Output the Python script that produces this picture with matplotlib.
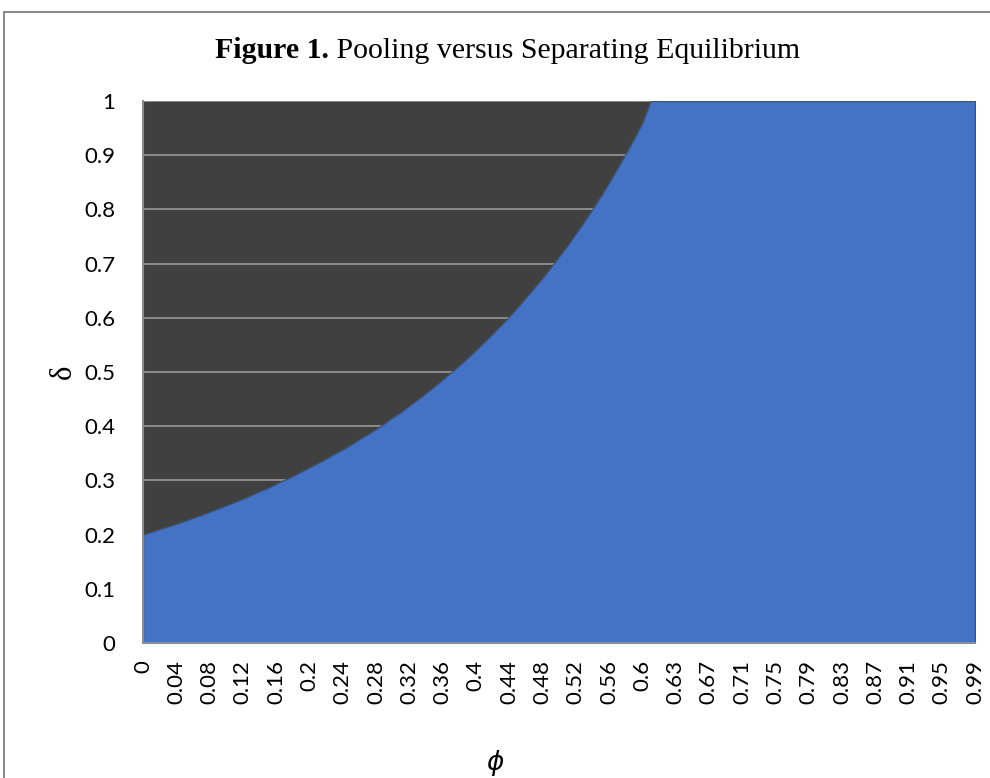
import matplotlib
matplotlib.use("Agg")
import matplotlib.pyplot as plt
from matplotlib.lines import Line2D
import numpy as np

# phi categories (x axis), one extra point where delta reaches 1
phi = [0, 0.01, 0.02, 0.03, 0.04, 0.05, 0.06, 0.07, 0.08, 0.09,
       0.1, 0.11, 0.12, 0.13, 0.14, 0.15, 0.16, 0.17, 0.18, 0.19,
       0.2, 0.21, 0.22, 0.23, 0.24, 0.25, 0.26, 0.27, 0.28, 0.29,
       0.3, 0.31, 0.32, 0.33, 0.34, 0.35, 0.36, 0.37, 0.38, 0.39,
       0.4, 0.41, 0.42, 0.43, 0.44, 0.45, 0.46, 0.47, 0.48, 0.49,
       0.5, 0.51, 0.52, 0.53, 0.54, 0.55, 0.56, 0.57, 0.58, 0.59,
       0.6, 0.605, 0.61, 0.62, 0.63, 0.64, 0.65, 0.66, 0.67, 0.68, 0.69,
       0.7, 0.71, 0.72, 0.73, 0.74, 0.75, 0.76, 0.77, 0.78, 0.79,
       0.8, 0.81, 0.82, 0.83, 0.84, 0.85, 0.86, 0.87, 0.88, 0.89,
       0.9, 0.91, 0.92, 0.93, 0.94, 0.95, 0.96, 0.97, 0.98, 0.99]

# delta threshold
delta = [0.200, 0.205, 0.210, 0.215, 0.220, 0.225, 0.231, 0.236, 0.242, 0.248,
         0.254, 0.260, 0.266, 0.273, 0.280, 0.286, 0.294, 0.301, 0.308, 0.316,
         0.324, 0.332, 0.340, 0.349, 0.357, 0.366, 0.376, 0.385, 0.395, 0.405,
         0.416, 0.426, 0.438, 0.449, 0.461, 0.473, 0.486, 0.499, 0.512, 0.526,
         0.540, 0.555, 0.570, 0.586, 0.602, 0.619, 0.637, 0.655, 0.673, 0.693,
         0.713, 0.733, 0.755, 0.777, 0.800, 0.824, 0.849, 0.875, 0.902, 0.930,
         0.959, 1.0, 1.0, 1.0, 1.0, 1.0, 1.0, 1.0, 1.0, 1.0, 1.0,
         1.0, 1.0, 1.0, 1.0, 1.0, 1.0, 1.0, 1.0, 1.0, 1.0,
         1.0, 1.0, 1.0, 1.0, 1.0, 1.0, 1.0, 1.0, 1.0, 1.0,
         1.0, 1.0, 1.0, 1.0, 1.0, 1.0, 1.0, 1.0, 1.0, 1.0]

y_ticks = [0, 0.1, 0.2, 0.3, 0.4, 0.5, 0.6, 0.7, 0.8, 0.9, 1]

tick_font = "Lato"
serif = "Liberation Serif"

fig = plt.figure(figsize=(9.9, 7.78), dpi=100)
ax = fig.add_axes([143/990, 1 - 643/778, (975-143)/990, (643-101)/778])

x = np.arange(len(phi))
ax.set_facecolor("#404040")
ax.fill_between(x, 0, delta, facecolor="#4472C4", edgecolor="#2F5597",
                linewidth=1.0, zorder=3)

ax.set_xlim(0, len(phi) - 1)
ax.set_ylim(0, 1)
ax.set_yticks(y_ticks)
ax.set_yticklabels([f"{v:g}" for v in y_ticks], fontsize=16, family=tick_font)
ax.set_xticks(x[::4])
ax.set_xticklabels([f"{phi[i]:g}" for i in x[::4]], rotation=90,
                   fontsize=16, family=tick_font, va="top", ha="center")
ax.tick_params(axis="both", length=0, colors="#000000")
ax.tick_params(axis="y", pad=20)
ax.tick_params(axis="x", pad=12)

ax.yaxis.grid(True, color="#8c8c8c", linewidth=1.4, zorder=1)
ax.set_axisbelow(True)
for s in ["top", "right"]:
    ax.spines[s].set_visible(False)
for s in ["left", "bottom"]:
    ax.spines[s].set_color("#8c8c8c")
    ax.spines[s].set_linewidth(1.5)
    ax.spines[s].set_zorder(4)

# axis titles
fig.text(63/990, 1 - 372/778, "δ", fontsize=22, family=serif, rotation=90,
         ha="center", va="center")
fig.text(495/990, 1 - 763/778, r"$\phi$", fontsize=19, ha="center", va="center")

# title: bold "Figure 1." followed by regular text, centered as a whole
r = fig.canvas.get_renderer()
t1 = fig.text(0, 1 - 58/778, "Figure 1.", fontsize=21.5, fontweight="bold",
              family=serif, va="baseline", ha="left")
t2 = fig.text(0, 1 - 58/778, " Pooling versus Separating Equilibrium", fontsize=21.5,
              family=serif, va="baseline", ha="left")
w1 = t1.get_window_extent(r).width
w2 = t2.get_window_extent(r).width
x0 = (508 - (w1 + w2) / 2) / 990
t1.set_x(x0)
t2.set_x(x0 + w1 / 990)

# chart area border
fig.add_artist(Line2D([4/990, 4/990], [0, 1 - 12/778], transform=fig.transFigure,
                      color="#8c8c8c", linewidth=1.5))
fig.add_artist(Line2D([4/990, 1], [1 - 12/778, 1 - 12/778], transform=fig.transFigure,
                      color="#8c8c8c", linewidth=1.5))

fig.savefig("out.png", dpi=100)
